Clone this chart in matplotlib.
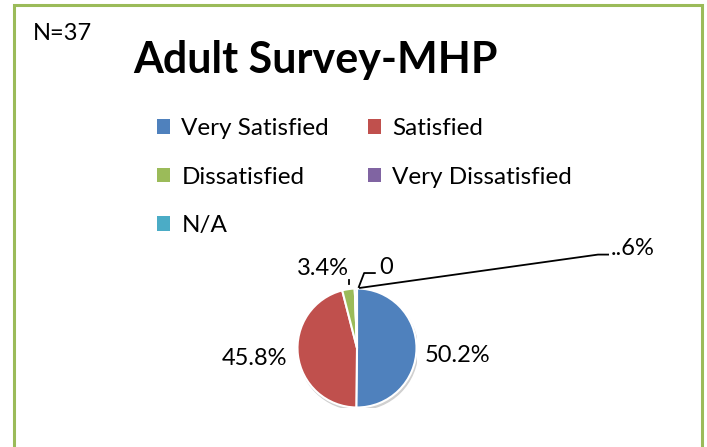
import matplotlib
matplotlib.use("Agg")
import matplotlib.pyplot as plt
from matplotlib.patches import Patch, Rectangle, Circle

categorias = ["Very Satisfied", "Satisfied", "Dissatisfied", "Very Dissatisfied", "N/A"]
valores = [50.2, 45.8, 3.4, 0, 0.6]
rotulos = ["50.2%", "45.8%", "3.4%", "0", "..6%"]
cores = ["#4F81BD", "#C0504D", "#9BBB59", "#8064A2", "#4BACC6"]

plt.rcParams['font.family'] = ['Lato', 'DejaVu Sans']

fig = plt.figure(figsize=(7.07, 4.47), dpi=100)
W, H = 707, 447

# Moldura verde
fig.patches.append(Rectangle((14/W, -0.05), (702-14)/W, 1.05 - 5/H, transform=fig.transFigure,
                             fill=False, edgecolor="#9BBB59", linewidth=2.2))

# Títulos
fig.text(33/W, 1 - 33/H, "N=37", fontsize=17, va="center", ha="left")
fig.text(315/W, 1 - 60/H, "Adult Survey-MHP", fontsize=31, fontweight="bold", va="center", ha="center")

# Eixo da pizza
cx, cy, r = 357, 348, 59.5
ax = fig.add_axes([(cx - r)/W, 1 - (cy + r)/H, 2*r/W, 2*r/H])
ax.add_patch(Circle((0.02, -0.04), 1.0, color="#d0d0d0", zorder=0))
fatias, _ = ax.pie(valores, colors=cores, startangle=90, counterclock=False, radius=1,
                   wedgeprops=dict(edgecolor="white", linewidth=1.5))
ax.set_xlim(-1, 1)
ax.set_ylim(-1, 1)
ax.set_aspect("auto")
ax.axis("off")

# Rótulos
fs = 17
ax.text(1.14, -0.12, rotulos[0], fontsize=fs, ha="left", va="center", clip_on=False)
ax.text(-1.18, -0.17, rotulos[1], fontsize=fs, ha="right", va="center", clip_on=False)
ax.text(-0.57, 1.34, rotulos[2], fontsize=fs, ha="center", va="center", clip_on=False)
ax.text(0.49, 1.36, rotulos[3], fontsize=fs, ha="center", va="center", clip_on=False)
ax.text(4.64, 1.68, rotulos[4], fontsize=fs, ha="center", va="center", clip_on=False)

# Linhas de chamada
ax.plot([-0.13, -0.13], [1.07, 1.14], color="black", lw=1.3, clip_on=False)
ax.plot([0.03, 0.12, 0.30], [1.025, 1.26, 1.26], color="black", lw=1.3, clip_on=False)
ax.plot([0.05, 4.05, 4.22], [1.01, 1.57, 1.57], color="black", lw=1.3, clip_on=False)

# Legenda
ordem = [0, 2, 4, 1, 3]
handles = [Patch(facecolor=cores[i], edgecolor="none") for i in ordem]
labels = [categorias[i] for i in ordem]
fig.legend(handles, labels, ncol=2, loc="upper left", bbox_to_anchor=(157/W, 1 - 118/H),
           frameon=False, fontsize=17.5, borderpad=0, borderaxespad=0,
           handlelength=0.55, handleheight=0.55, handletextpad=0.45,
           labelspacing=1.14, columnspacing=1.6)

fig.savefig("out.png", dpi=100)
